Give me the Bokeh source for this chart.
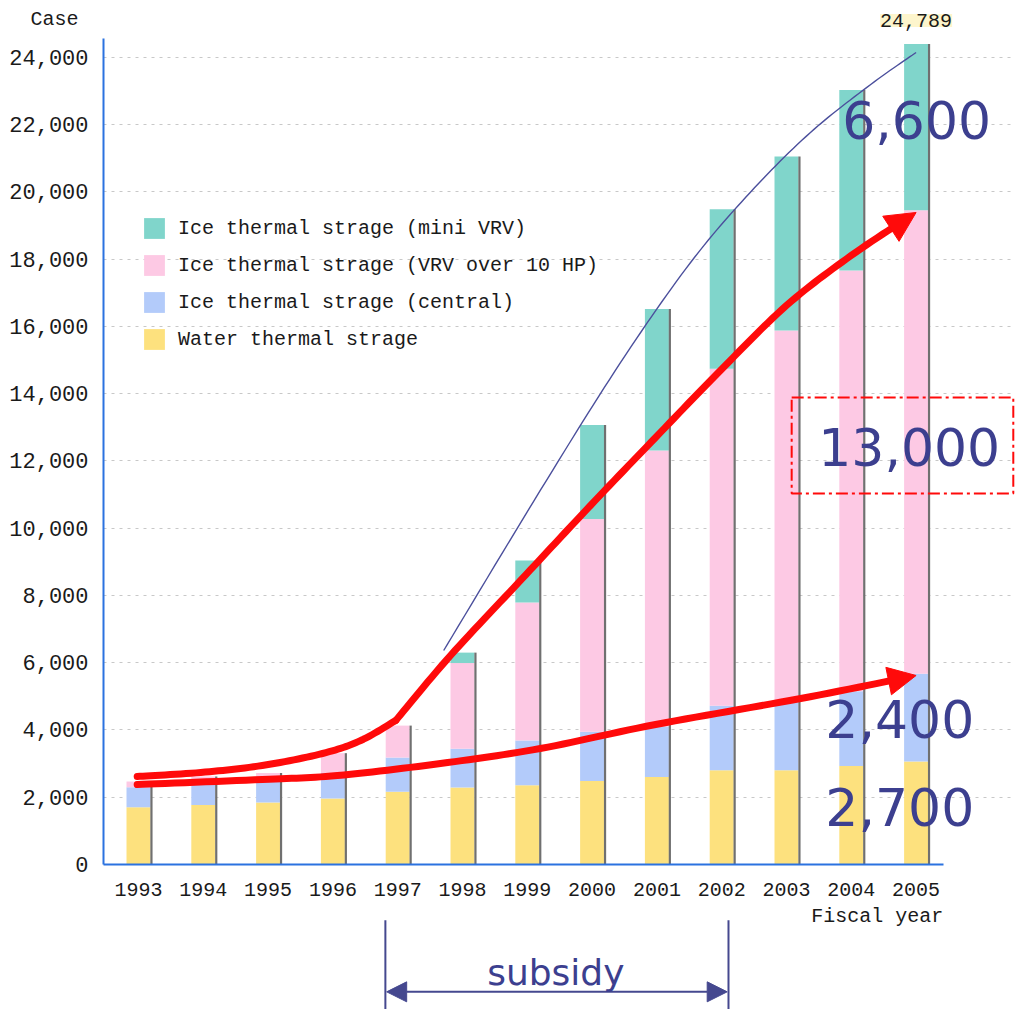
import numpy as np
from bokeh.plotting import figure
from bokeh.models import (ColumnDataSource, Range1d, FixedTicker, NumeralTickFormatter,
                          Legend, LegendItem, Label, Arrow, NormalHead)
from bokeh.layouts import column
from bokeh.embed import file_html
from bokeh.resources import INLINE

# ---------------- data ----------------
YEARS = [1993, 1994, 1995, 1996, 1997, 1998, 1999, 2000, 2001, 2002, 2003, 2004, 2005]
WATER = [1700, 1770, 1840, 1960, 2160, 2290, 2360, 2480, 2600, 2800, 2800, 2930, 3060]
CENTRAL = [600, 680, 630, 760, 1020, 1150, 1330, 1470, 1500, 1920, 2050, 2220, 2610]
VRV = [170, 170, 250, 590, 950, 2550, 4100, 6320, 8210, 10020, 11030, 12510, 13780]
MINI = [0, 0, 0, 0, 0, 310, 1250, 2800, 4210, 4740, 5170, 5370, 4950]
SERIES = ["water", "central", "vrv", "mini"]
LABELS = {
    "mini": "Ice thermal strage (mini VRV)",
    "vrv": "Ice thermal strage (VRV over 10 HP)",
    "central": "Ice thermal strage (central)",
    "water": "Water thermal strage",
}
Y_TICKS = list(range(0, 24001, 2000))
TOTAL_LABEL = "24,789"
BIG_LABELS = ["6,600", "13,000", "2,400", "2,700"]

COLORS = {"water": "#fde17e", "central": "#b3cbfa", "vrv": "#fdc9e4", "mini": "#80d5cb"}
TOTALS = [w + c + v + m for w, c, v, m in zip(WATER, CENTRAL, VRV, MINI)]

src = ColumnDataSource(dict(year=YEARS, water=WATER, central=CENTRAL, vrv=VRV, mini=MINI,
                            total=TOTALS))

MONO = "Liberation Mono"
SANS = "DejaVu Sans"
W = 1015
LEFT = 103
PXU = 64.8                      # pixels per year
X0 = 1992.46
X1 = X0 + (W - LEFT) / PXU
Y0, Y1 = 0, 24560
AXIS_BLUE = "#2b72e0"
NAVY = "#3c3f8f"
TXT = "#1a1a1a"
XR = Range1d(X0, X1)

# ---------------- top strip ("Case", total label) ----------------
p0 = figure(width=W, height=38, output_backend="svg", toolbar_location=None,
            x_range=XR, y_range=Range1d(0, 38),
            x_axis_location=None, y_axis_location="left",
            min_border_left=LEFT, min_border_right=0, min_border_top=0, min_border_bottom=0)
p0.outline_line_color = None
p0.grid.visible = False
p0.yaxis.ticker = FixedTicker(ticks=[])
p0.yaxis.axis_line_color = None
p0.yaxis.major_tick_line_color = None
p0.yaxis.minor_tick_line_color = None
p0.yaxis.axis_label = "Case"
p0.yaxis.axis_label_orientation = "horizontal"
p0.yaxis.axis_label_standoff = 25
p0.yaxis.axis_label_text_font = MONO
p0.yaxis.axis_label_text_font_style = "normal"
p0.yaxis.axis_label_text_font_size = "20px"
p0.yaxis.axis_label_text_color = TXT
p0.add_layout(Label(x=YEARS[-1], y=18, text=TOTAL_LABEL, text_font=MONO,
                    text_font_size="20px", text_color=TXT, text_align="center",
                    text_baseline="middle", background_fill_color="#fbeeaa",
                    background_fill_alpha=0.6))

# ---------------- main chart ----------------
p = figure(width=W, height=862, output_backend="svg", toolbar_location=None,
           x_range=XR, y_range=Range1d(Y0, Y1),
           min_border_left=LEFT, min_border_right=0, min_border_top=0, min_border_bottom=36)
p.outline_line_color = None
p.background_fill_color = "white"
p.border_fill_color = "white"

p.xaxis.ticker = FixedTicker(ticks=YEARS)
p.xaxis.major_label_overrides = {y: str(y) for y in YEARS}
p.xaxis.bounds = (X0, 2005.42)
p.yaxis.ticker = FixedTicker(ticks=Y_TICKS)
p.yaxis.formatter = NumeralTickFormatter(format="0,0")
for ax in (p.xaxis, p.yaxis):
    ax.axis_line_color = AXIS_BLUE
    ax.axis_line_width = 2
    ax.major_tick_line_color = None
    ax.minor_tick_line_color = None
    ax.major_label_text_font = MONO
    ax.major_label_text_color = TXT
p.yaxis.major_label_text_font_size = "22px"
p.yaxis.major_label_standoff = 9
p.xaxis.major_label_text_font_size = "20px"
p.xaxis.major_label_standoff = 12

p.xgrid.visible = False
p.ygrid.ticker = FixedTicker(ticks=Y_TICKS)
p.ygrid.grid_line_color = "#c8c8c8"
p.ygrid.grid_line_dash = "3 5"
p.ygrid.grid_line_width = 1

rs = p.vbar_stack(SERIES, x="year", width=0.37, source=src,
                  color=[COLORS[s] for s in SERIES], line_color=None)
p.segment(x0=[y + 0.2 for y in YEARS], x1=[y + 0.2 for y in YEARS],
          y0=[0] * len(YEARS), y1=TOTALS, line_color="#707070", line_width=2.2)

legend = Legend(items=[LegendItem(label=LABELS[s], renderers=[rs[SERIES.index(s)]])
                       for s in ["mini", "vrv", "central", "water"]],
                location=(38, 512))
legend.glyph_width = 26
legend.glyph_height = 26
legend.spacing = 11
legend.label_standoff = 11
legend.padding = 0
legend.margin = 0
legend.background_fill_alpha = 0
legend.border_line_color = None
legend.label_text_font = MONO
legend.label_text_font_size = "20px"
legend.label_text_color = TXT
p.add_layout(legend)


def smooth(xs, ys, n=14):
    P = np.column_stack([xs, ys]).astype(float)
    P = np.vstack([P[0], P, P[-1]])
    out = []
    for i in range(1, len(P) - 2):
        p0_, p1, p2_, p3 = P[i - 1], P[i], P[i + 1], P[i + 2]
        for t in np.linspace(0, 1, n, endpoint=False):
            t2, t3 = t * t, t * t * t
            out.append(0.5 * (2 * p1 + (-p0_ + p2_) * t + (2 * p0_ - 5 * p1 + 4 * p2_ - p3) * t2
                              + (-p0_ + 3 * p1 - 3 * p2_ + p3) * t3))
    out.append(P[-2])
    out = np.array(out)
    return out[:, 0], out[:, 1]


# thin navy trend curve
nx, ny = smooth([1997.71, 1999.20, 2000.44, 2001.52, 2002.44, 2003.37, 2004.30, 2005.0],
                [6363, 11121, 14927, 17900, 19982, 21766, 23193, 24145])
p.line(nx, ny, line_color="#4b4f9c", line_width=1.4)

RED = "#ff0a0a"


def red_arrow(xs, ys, head=30):
    cx, cy = smooth(xs, ys)
    keep = cx < xs[-1] - 0.3
    p.line(cx[keep], cy[keep], line_color=RED, line_width=7, line_cap="round", line_join="round")
    sx, sy = cx[keep][-1], cy[keep][-1]
    p.add_layout(Arrow(end=NormalHead(size=head, fill_color=RED, line_color=RED),
                       x_start=sx, y_start=sy, x_end=xs[-1], y_end=ys[-1],
                       line_color=RED, line_width=7))


ux1, uy1 = smooth([1992.98, 1993.96, 1994.91, 1995.84, 1996.43, 1996.97],
                  [2617, 2736, 2944, 3301, 3687, 4282])
p.line(ux1, uy1, line_color=RED, line_width=7, line_cap="round", line_join="round")
red_arrow([1996.97, 1997.815, 1998.895, 1999.975, 2000.98, 2001.98, 2003.0, 2004.0, 2005.0],
          [4282, 6215, 8445, 10675, 12697, 14689, 16622, 18109, 19387], head=30)
red_arrow([1992.98, 1994.91, 1996.07, 1997.66, 1999.20, 2000.98, 2003.22, 2005.0],
          [2379, 2527, 2646, 3003, 3449, 4163, 4936, 5620], head=28)

p.quad(left=[2003.08], right=[2006.5], bottom=[11032], top=[13886], fill_color=None,
       line_color=RED, line_width=2, line_dash="12 4 3 4")

for txt, x, y in zip(BIG_LABELS, [2003.86, 2003.49, 2003.60, 2003.60], [22123, 12400, 4341, 1695]):
    p.add_layout(Label(x=x, y=y, text=txt, text_font=SANS, text_font_size="52px",
                       text_color=NAVY, text_align="left", text_baseline="middle"))

# ---------------- bottom strip ("Fiscal year", subsidy bracket) ----------------
H2 = 109
p2 = figure(width=W, height=H2, output_backend="svg", toolbar_location=None,
            x_range=XR, y_range=Range1d(H2 - 111, H2),
            x_axis_location=None, y_axis_location=None,
            min_border_left=LEFT, min_border_right=0, min_border_top=0, min_border_bottom=0)
p2.outline_line_color = None
p2.grid.visible = False
p2.border_fill_color = "white"
p2.add_layout(Label(x=2005.42, y=93, text="Fiscal year", text_font=MONO,
                    text_font_size="20px", text_color=TXT, text_align="right",
                    text_baseline="middle"))
SUB_L, SUB_R = 1996.81, 2002.105
SUB_C = "#45488f"
p2.segment(x0=[SUB_L, SUB_R], x1=[SUB_L, SUB_R], y0=[-5, -5], y1=[89, 89],
           line_color=SUB_C, line_width=2)
p2.add_layout(Arrow(start=NormalHead(size=20, fill_color=SUB_C, line_color=SUB_C),
                    end=NormalHead(size=20, fill_color=SUB_C, line_color=SUB_C),
                    x_start=SUB_L + 0.02, y_start=16, x_end=SUB_R - 0.02, y_end=16,
                    line_color=SUB_C, line_width=2))
p2.add_layout(Label(x=1999.44, y=36, text="subsidy", text_font=SANS, text_font_size="36px",
                    text_color=NAVY, text_align="center", text_baseline="middle"))

layout = column(p0, p, p2, spacing=0)
open("out.html", "w").write(file_html(layout, INLINE))
